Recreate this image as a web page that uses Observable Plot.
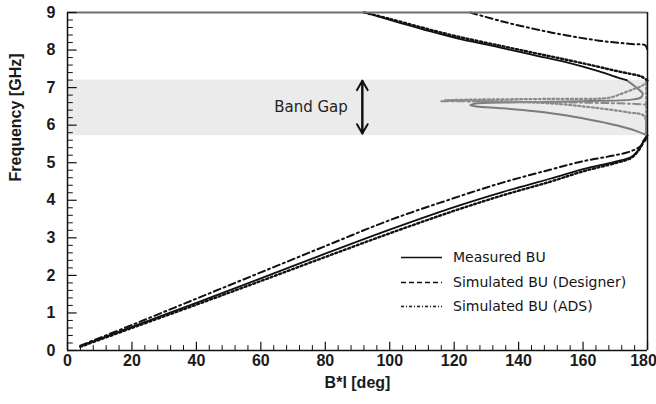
<!DOCTYPE html>
<html><head><meta charset="utf-8">
<script src="https://cdn.jsdelivr.net/npm/d3@7"></script>
<script src="https://cdn.jsdelivr.net/npm/@observablehq/plot@0.6"></script>
<style>
body{margin:0;background:#fff}
#wrap{position:relative;width:656px;height:404px;overflow:hidden}
.lrow{position:absolute;left:400px;height:20px;display:flex;align-items:center;font-family:"DejaVu Sans",sans-serif;font-size:14px;color:#151515;white-space:nowrap}
.lrow svg{margin-right:11px}
</style></head><body><div id="wrap"></div>
<script>
// ---- data (B*l in deg, frequency in GHz) ----
const measuredLow = [[4,0.12],[20,0.63],[40,1.27],[60,1.92],[80,2.58],[100,3.22],[120,3.82],[135,4.22],[150,4.58],[160,4.83],[170,5.03],[175,5.16],[177.5,5.38],[179,5.62],[180,5.72]];
const designerLow = [[4,0.10],[20,0.60],[40,1.22],[60,1.85],[80,2.49],[100,3.12],[120,3.72],[135,4.13],[150,4.50],[160,4.77],[170,4.99],[175,5.13],[177.5,5.36],[179,5.60],[180,5.72]];
const adsLow = [[4,0.13],[20,0.68],[40,1.38],[60,2.08],[80,2.78],[100,3.47],[120,4.06],[135,4.47],[150,4.82],[160,5.04],[170,5.20],[175,5.31],[178,5.45],[180,5.70]];
const measuredUp = [[92.5,9.0],[100,8.80],[110,8.56],[120,8.33],[134,8.07],[145,7.86],[155,7.67],[165,7.43],[171,7.26],[173.5,7.2]];
const designerUp = [[92,9.0],[100,8.83],[110,8.60],[120,8.38],[134,8.12],[145,7.92],[155,7.74],[165,7.55],[170,7.45],[175,7.36],[178,7.30],[180,7.19]];
const adsUp = [[125,9.0],[135,8.76],[150,8.47],[165,8.25],[175,8.16],[179.4,8.12],[180,7.95]];
const measuredGap = [[180,5.72],[176,5.86],[170.7,5.99],[165,6.10],[155,6.26],[145,6.37],[135,6.45],[127,6.50],[125,6.53],[127,6.58],[140,6.61],[160,6.64],[175,6.68],[178,6.74],[178.5,6.84],[177,6.97],[173.5,7.2]];
const designerGap = [[179.5,5.78],[179,6.24],[174,6.34],[163,6.47],[153,6.56],[140,6.62],[125,6.65],[117,6.66],[125,6.68],[150,6.70],[168,6.73],[172,6.84],[176,6.97],[178.5,7.06],[180,7.19]];
const designerEdge = [[179.6,5.72],[179.6,7.19]];
const adsGap = [[116,6.64],[140,6.62],[160,6.60],[175,6.57],[179.5,6.55]];
const bandGap = [5.72, 7.2];
const bandLabel = [{x: 87, y: 6.47, text: "Band Gap"}];
const bandArrow = [{x: 91.5, y1: 5.78, y2: 7.18}];
const xMajor = d3.range(0, 181, 20);
const xMinor = d3.range(0, 181, 4).filter(v => v % 20 !== 0);
const yMajor = d3.range(0, 10, 1);
const yMinor = d3.range(1, 45).map(i => i / 5).filter(v => Math.abs(v - Math.round(v)) > 1e-6);
const series = [
  {name: "Measured BU", dash: null},
  {name: "Simulated BU (Designer)", dash: "5,3"},
  {name: "Simulated BU (ADS)", dash: "3,2,1,2"}
];

const X = d => d[0], Y = d => d[1];
const black = "#111", gray = "#8a8a8a";
const DOT = "2,2.6", DASHDOT = "7,3.5,2,3.5";

const chart = Plot.plot({
  width: 656, height: 404,
  marginLeft: 67, marginRight: 9, marginTop: 12, marginBottom: 54,
  x: {domain: [0, 180]},
  y: {domain: [0, 9]},
  style: {fontFamily: "'Liberation Sans', Arial, sans-serif", fontSize: "16px", fontWeight: "bold", color: "#1a1a1a", background: "#fff", overflow: "visible"},
  marks: [
    Plot.rect([bandGap], {x1: 0, x2: 180, y1: d => d[0], y2: d => d[1], fill: "#ebebeb"}),
    // gray (in-gap) traces
    Plot.line(measuredGap, {x: X, y: Y, stroke: "#7c7c7c", strokeWidth: 2, curve: "catmull-rom"}),
    Plot.line(designerGap, {x: X, y: Y, stroke: gray, strokeWidth: 2.2, strokeDasharray: DOT, curve: "catmull-rom"}),
    Plot.line(designerEdge, {x: X, y: Y, stroke: gray, strokeWidth: 2.2, strokeDasharray: DOT}),
    Plot.line(adsGap, {x: X, y: Y, stroke: gray, strokeWidth: 2, strokeDasharray: DASHDOT, curve: "catmull-rom"}),
    // black traces
    Plot.line(designerLow, {x: X, y: Y, stroke: black, strokeWidth: 2.4, strokeDasharray: DOT, curve: "catmull-rom"}),
    Plot.line(designerUp, {x: X, y: Y, stroke: black, strokeWidth: 2.4, strokeDasharray: DOT, curve: "catmull-rom"}),
    Plot.line(adsLow, {x: X, y: Y, stroke: black, strokeWidth: 2, strokeDasharray: DASHDOT, curve: "catmull-rom"}),
    Plot.line(adsUp, {x: X, y: Y, stroke: black, strokeWidth: 2, strokeDasharray: DASHDOT, curve: "catmull-rom"}),
    Plot.line(measuredLow, {x: X, y: Y, stroke: black, strokeWidth: 1.8, curve: "catmull-rom"}),
    Plot.line(measuredUp, {x: X, y: Y, stroke: black, strokeWidth: 1.8, curve: "catmull-rom"}),
    // frame
    Plot.ruleY([9], {stroke: "#6e6e6e", strokeWidth: 2}),
    Plot.ruleX([180], {stroke: black, strokeWidth: 1.5}),
    Plot.ruleX([0], {stroke: black, strokeWidth: 1.5}),
    Plot.ruleY([0], {stroke: black, strokeWidth: 1.5}),
    // inward ticks
    Plot.ruleX(xMajor, {y1: 0, y2: 0.22, stroke: black, strokeWidth: 1.2}),
    Plot.ruleX(xMinor, {y1: 0, y2: 0.13, stroke: black, strokeWidth: 1}),
    Plot.ruleY(yMajor, {x1: 0, x2: 3.0, stroke: black, strokeWidth: 1.2}),
    Plot.ruleY(yMinor, {x1: 0, x2: 1.8, stroke: black, strokeWidth: 1}),
    // tick labels
    Plot.axisX({ticks: xMajor.slice(0, -1), tickSize: 0, tickPadding: 4, label: null, tickFormat: d => d}),
    Plot.text(xMajor.slice(-1), {x: d => d, y: 0, dy: 4, dx: -4, lineAnchor: "top", text: d => String(d), fill: "#1a1a1a"}),
    Plot.axisY({ticks: yMajor, tickSize: 0, tickPadding: 12, label: null, tickFormat: d => d}),
    // axis titles
    Plot.text(["B*l [deg]"], {frameAnchor: "bottom", dy: 32, lineAnchor: "middle", fill: "#1a1a1a"}),
    Plot.text(["Frequency [GHz]"], {frameAnchor: "left", dx: -52, rotate: -90, lineAnchor: "middle", fill: "#1a1a1a"}),
    // band gap annotation
    Plot.text(bandLabel, {x: "x", y: "y", text: "text", textAnchor: "end", fontFamily: "'DejaVu Sans', sans-serif", fontSize: 15, fontWeight: "normal", fill: "#222"}),
    Plot.arrow(bandArrow, {x1: "x", x2: "x", y1: "y1", y2: "y2", stroke: black, strokeWidth: 2, headLength: 8}),
    Plot.arrow(bandArrow, {x1: "x", x2: "x", y1: "y2", y2: "y1", stroke: black, strokeWidth: 2, headLength: 8})
  ]
});
const wrap = document.getElementById("wrap");
wrap.appendChild(chart);

// legend (inside plot, lower right)
const rowTops = [247, 272, 296];
series.forEach((s, i) => {
  const row = document.createElement("div");
  row.className = "lrow";
  row.style.top = rowTops[i] + "px";
  row.innerHTML = `<svg width="42" height="11"><line x1="1" y1="5.5" x2="42" y2="5.5" stroke="#111" stroke-width="1.3" ${s.dash ? `stroke-dasharray="${s.dash}"` : ""}/></svg><span>${s.name}</span>`;
  wrap.appendChild(row);
});
</script>
</body></html>
